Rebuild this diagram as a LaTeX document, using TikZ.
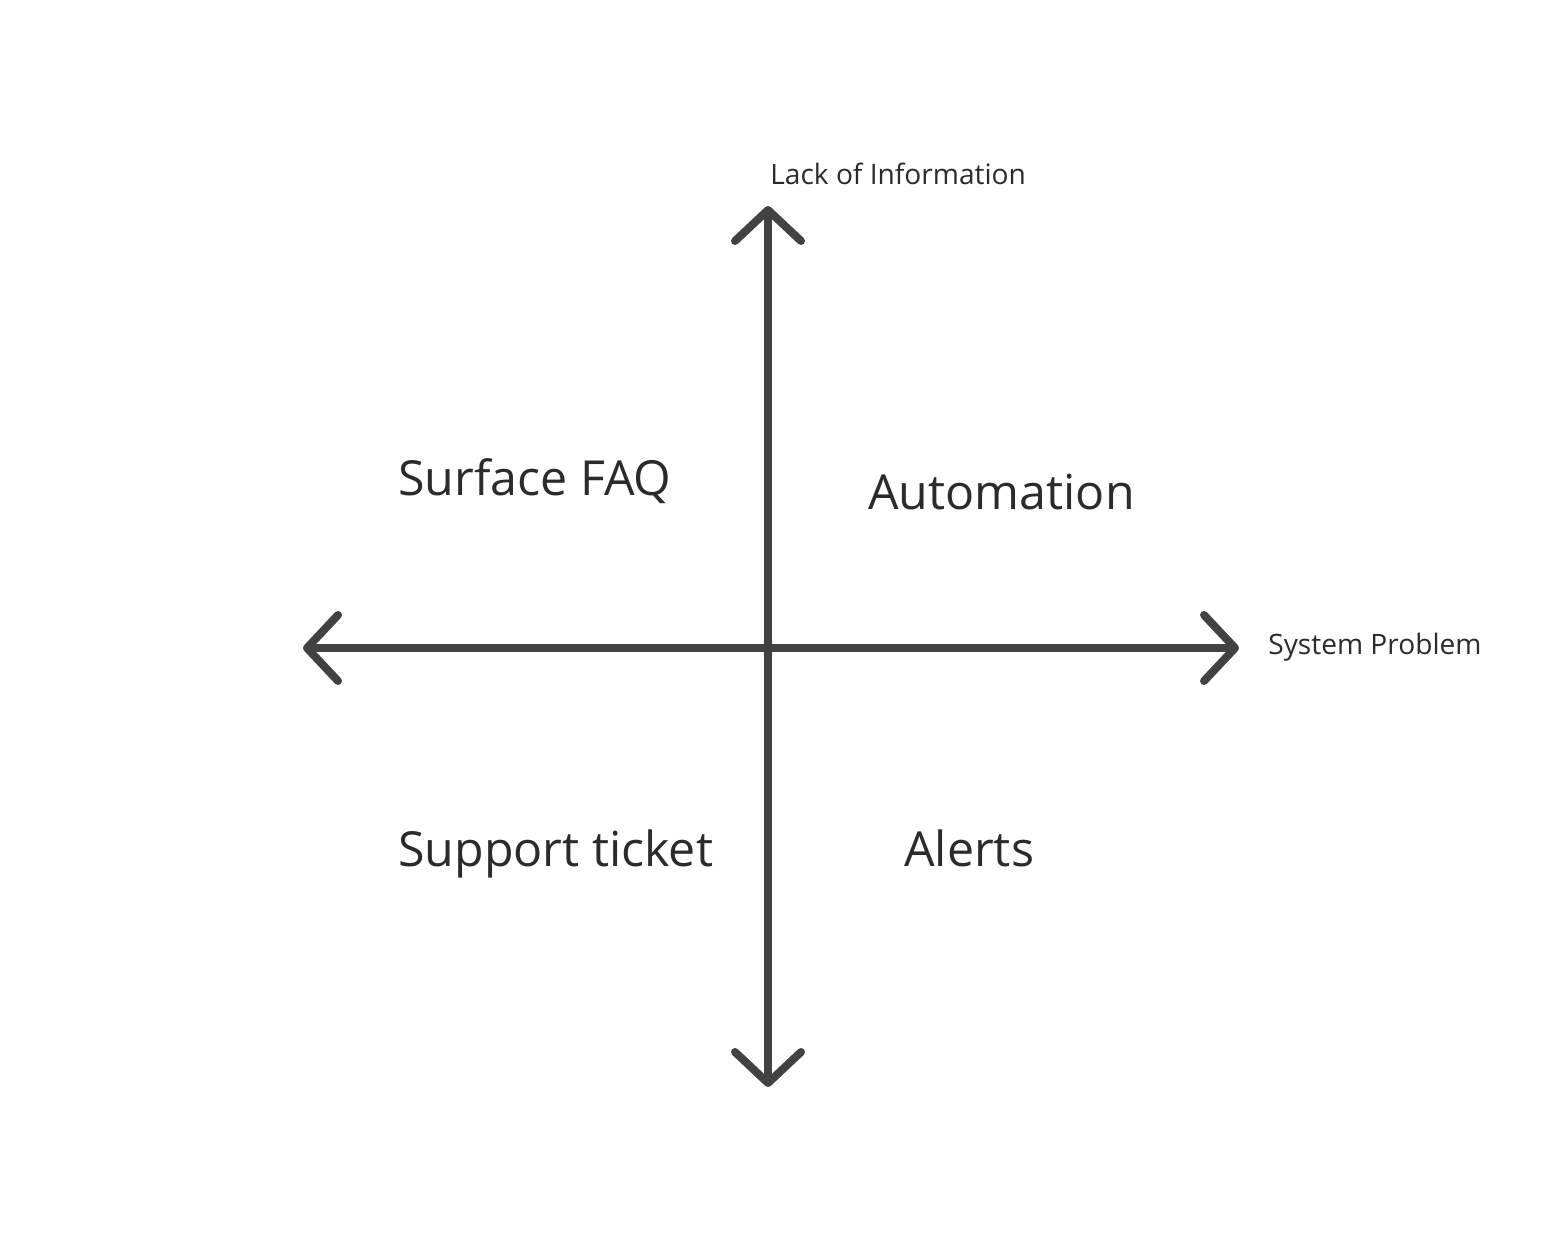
\documentclass[tikz,border=0pt]{standalone}
\usepackage{fontspec}
\setmainfont{Open Sans}
\usetikzlibrary{arrows.meta}

\definecolor{axisgray}{HTML}{424242}
\definecolor{textgray}{HTML}{2B2B2B}

\begin{document}
\begin{tikzpicture}[x=0.02cm, y=-0.02cm]

% Define axis and label styles
\tikzstyle{axis} = [draw=axisgray, line width=8*0.02cm, line cap=round,
    {Straight Barb[length=0.62cm, width=1.32cm, round]}-{Straight Barb[length=0.62cm, width=1.32cm, round]}]
\tikzstyle{axislabel} = [text=textgray, inner sep=0pt, anchor=base west,
    font=\fontsize{16}{19}\selectfont]
\tikzstyle{quadrant} = [text=textgray, inner sep=0pt, anchor=base west,
    font=\fontsize{27.5}{33}\selectfont]

\useasboundingbox (0,0) rectangle (1564,1236);

\coordinate (top) at (768,206);
\coordinate (bottom) at (768,1087);
\coordinate (left) at (303,648);
\coordinate (right) at (1239,648);

\draw[axis] (bottom) -- (top);
\draw[axis] (left) -- (right);

\node[axislabel] (yname) at (770,185) {Lack of Information};
\node[axislabel] (xname) at (1268,654) {System Problem};

\node[quadrant] (faq) at (398,495) {Surface FAQ};
\node[quadrant] (auto) at (868,509) {Automation};
\node[quadrant] (ticket) at (398,866) {Support ticket};
\node[quadrant] (alerts) at (904,866) {Alerts};
\end{tikzpicture}
\end{document}
